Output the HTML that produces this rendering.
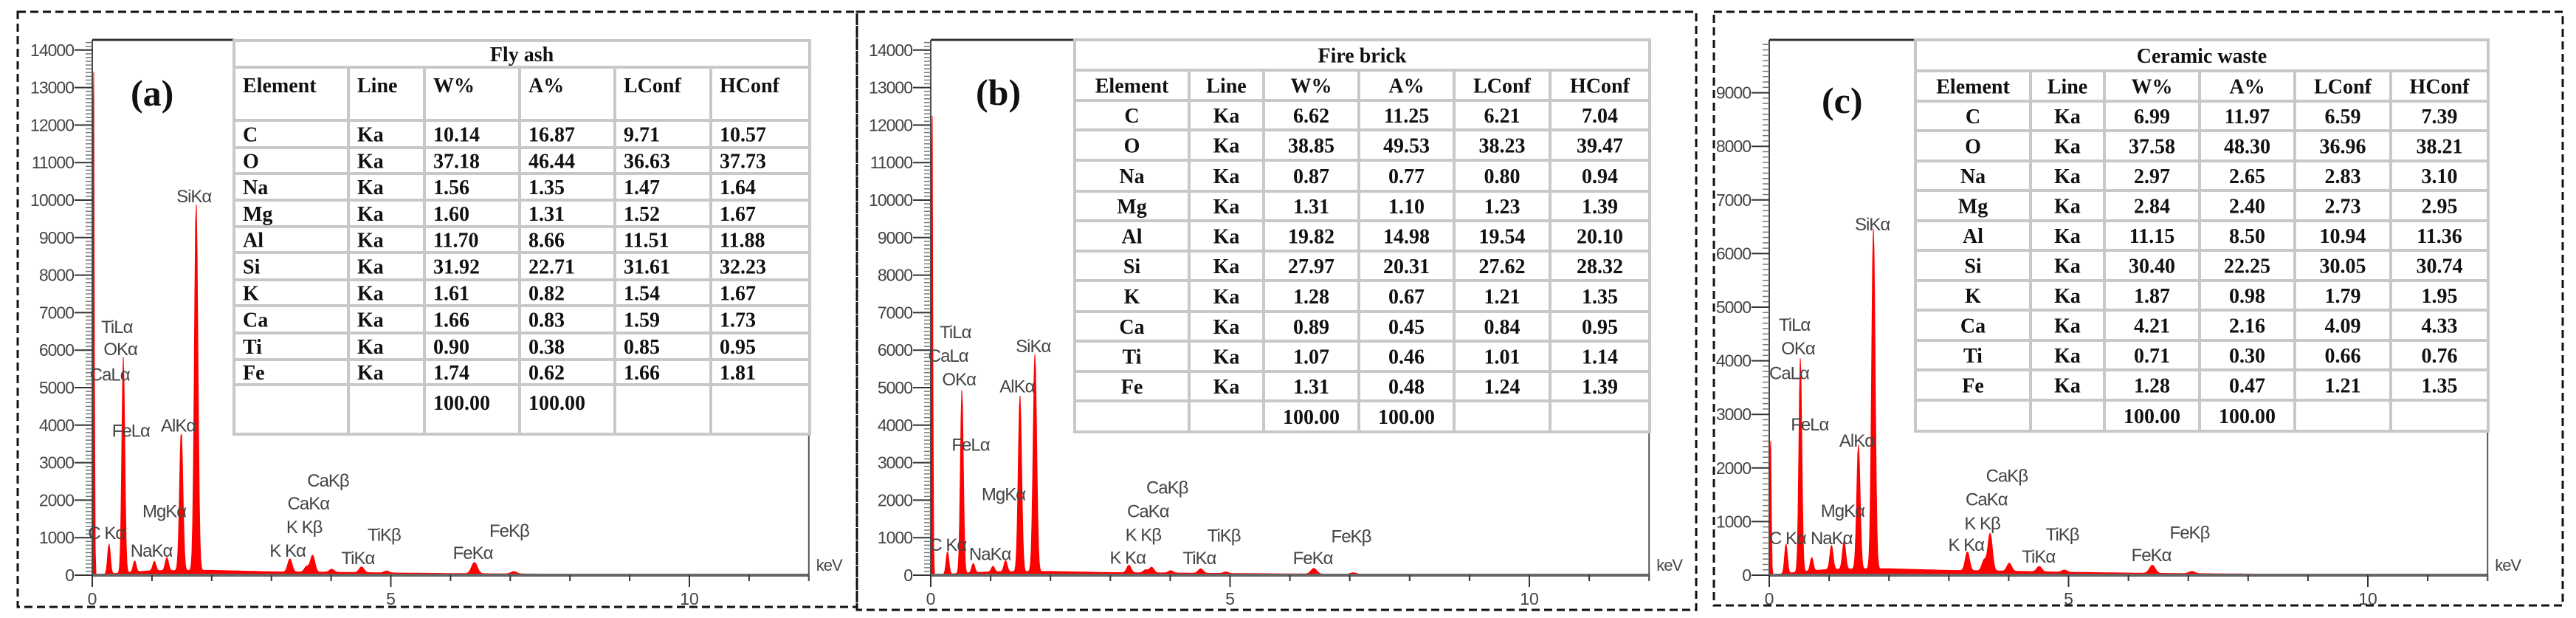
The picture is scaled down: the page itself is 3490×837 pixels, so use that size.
<!DOCTYPE html>
<html><head><meta charset="utf-8"><title>EDS spectra</title>
<style>html,body{margin:0;padding:0;background:#fff;}svg{display:block;}</style></head>
<body>
<svg id="fig" xmlns="http://www.w3.org/2000/svg" width="3490" height="837" viewBox="0 0 3490 837"></svg>
<script>
// ---------- data ----------
const axisTicksA = [0,1000,2000,3000,4000,5000,6000,7000,8000,9000,10000,11000,12000,13000,14000];
const axisTicksC = [0,1000,2000,3000,4000,5000,6000,7000,8000,9000];
const xTickLabels = [0,5,10];
const tableHeader = ["Element","Line","W%","A%","LConf","HConf"];
const elements = ["C","O","Na","Mg","Al","Si","K","Ca","Ti","Fe"];

const peakKeV = [0.02,0.28,0.52,0.71,1.04,1.25,1.49,1.74,3.31,3.59,3.69,4.01,4.51,4.93,6.40,7.06];
const peaksA = [14500,800,5750,300,250,350,3700,9800,350,150,450,80,150,50,300,60];
const peaksB = [13200,600,4900,250,150,300,4700,5800,200,80,150,60,120,40,150,40];
const peaksC = [2700,550,4000,250,450,520,2320,6350,350,200,700,150,100,40,150,40];
const bgKeV = [0,0.5,1,2,3,4,5,6,7,8,9,10,12];
const bgA = [0,60,120,130,90,80,60,45,35,25,15,10,5];
const bgB = [0,50,90,100,70,60,45,35,25,18,12,8,4];
const bgC = [0,60,110,120,90,75,55,40,30,22,14,9,4];

const wA = [["10.14","16.87","9.71","10.57"],["37.18","46.44","36.63","37.73"],["1.56","1.35","1.47","1.64"],["1.60","1.31","1.52","1.67"],["11.70","8.66","11.51","11.88"],["31.92","22.71","31.61","32.23"],["1.61","0.82","1.54","1.67"],["1.66","0.83","1.59","1.73"],["0.90","0.38","0.85","0.95"],["1.74","0.62","1.66","1.81"]];
const wB = [["6.62","11.25","6.21","7.04"],["38.85","49.53","38.23","39.47"],["0.87","0.77","0.80","0.94"],["1.31","1.10","1.23","1.39"],["19.82","14.98","19.54","20.10"],["27.97","20.31","27.62","28.32"],["1.28","0.67","1.21","1.35"],["0.89","0.45","0.84","0.95"],["1.07","0.46","1.01","1.14"],["1.31","0.48","1.24","1.39"]];
const wC = [["6.99","11.97","6.59","7.39"],["37.58","48.30","36.96","38.21"],["2.97","2.65","2.83","3.10"],["2.84","2.40","2.73","2.95"],["11.15","8.50","10.94","11.36"],["30.40","22.25","30.05","30.74"],["1.87","0.98","1.79","1.95"],["4.21","2.16","4.09","4.33"],["0.71","0.30","0.66","0.76"],["1.28","0.47","1.21","1.35"]];

const labelText = ["TiLα","OKα","CaLα","FeLα","AlKα","SiKα","MgKα","C Kα","NaKα","K Kα","K Kβ","CaKα","CaKβ","TiKβ","TiKα","FeKβ","FeKα"];
const labelKeVA = [0.15,0.19,-0.04,0.33,1.15,1.41,0.84,-0.07,0.64,2.97,3.25,3.27,3.6,4.61,4.17,6.65,6.04];
const labelCntA = [6460,5870,5190,3690,3830,9940,1550,960,490,490,1120,1750,2360,920,300,1020,430];
const labelKeVB = [0.15,0.19,-0.04,0.35,1.15,1.42,0.85,-0.02,0.64,2.99,3.25,3.28,3.6,4.62,4.21,6.69,6.05];
const labelCntB = [6320,5060,5690,3320,4870,5940,2000,650,400,310,920,1550,2180,900,300,880,300];
const labelKeVC = [0.16,0.2,0,0.36,1.17,1.43,0.86,0,0.69,2.99,3.26,3.28,3.62,4.62,4.22,6.69,6.05];
const labelCntC = [4560,4120,3660,2700,2400,6430,1090,580,580,455,855,1300,1740,650,235,680,260];

// ---------- helpers ----------
const NS="http://www.w3.org/2000/svg";
const svg=document.getElementById('fig');
function mk(tag,attrs,parent){const e=document.createElementNS(NS,tag);for(const k in attrs)e.setAttribute(k,attrs[k]);(parent||svg).appendChild(e);return e;}
function interp(xs,ys,x){if(x<=xs[0])return ys[0];for(let i=1;i<xs.length;i++){if(x<=xs[i]){const t=(x-xs[i-1])/(xs[i]-xs[i-1]);return ys[i-1]+t*(ys[i]-ys[i-1]);}}return ys[ys.length-1];}

function panel(cfg){
  const g=mk('g',{});
  
  
  const X=k=>cfg.x0+k*cfg.pxPerKeV;
  const Y=c=>cfg.y0-(c/1000)*cfg.pxPer1000;
  const b=mk('rect',{x:cfg.bx,y:cfg.by,width:cfg.bw,height:cfg.bh,fill:'none',stroke:'#111','stroke-width':3,'stroke-dasharray':'11,6'},g);
  
  
  let d='M'+X(0)+','+Y(0);
  const xEnd=X(12);
  for(let px=cfg.x0;px<=xEnd;px+=1){
    const k=(px-cfg.x0)/cfg.pxPerKeV;
    let c=interp(bgKeV,cfg.bg,k);
    for(let i=0;i<peakKeV.length;i++){
      const s=(i===0?0.012:0.022+0.004*peakKeV[i]);
      const dx=(k-peakKeV[i])/s;
      c+=cfg.peaks[i]*Math.exp(-0.5*dx*dx);
    }
    c=Math.min(c,cfg.maxC);
    d+=' L'+px+','+Y(c).toFixed(1);
  }
  d+=' L'+xEnd+','+Y(0)+' Z';
  const sp=mk('path',{d:d,fill:'#ff0000',stroke:'#ff0000','stroke-width':1},g);
  
  
  const yTop=cfg.topY;
  const ya=mk('line',{x1:cfg.x0,y1:yTop,x2:cfg.x0,y2:Y(0),stroke:'#444','stroke-width':2},g);
  
  
  for(let c=0;c<=cfg.maxC;c+=100){
    const y=Y(c); if(y<yTop)break;
    mk('line',{x1:cfg.x0-9,y1:y,x2:cfg.x0,y2:y,stroke:'#777','stroke-width':1.5},g);
  }
  cfg.ticks.forEach(t=>{
    mk('line',{x1:cfg.x0-24,y1:Y(t),x2:cfg.x0,y2:Y(t),stroke:'#333','stroke-width':2},g);
    const tx=mk('text',{x:cfg.x0-25,y:Y(t)+8,'text-anchor':'end','font-family':'Liberation Sans, sans-serif','font-size':23,fill:'#444','letter-spacing':'-1'},g);
    tx.textContent=t;
    
    
  });
  const xa=mk('line',{x1:cfg.x0,y1:Y(0),x2:xEnd,y2:Y(0),stroke:'#666','stroke-width':4},g);
  
  
  for(let k=0;k<=12;k++){
    const big=(k%5===0);
    mk('line',{x1:X(k),y1:Y(0),x2:X(k),y2:Y(0)+(big?16:8),stroke:'#333','stroke-width':2},g);
  }
  xTickLabels.forEach(k=>{
    const tx=mk('text',{x:X(k),y:Y(0)+40,'text-anchor':'middle','font-family':'Liberation Sans, sans-serif','font-size':23,fill:'#444'},g);
    tx.textContent=k;
    
    
  });
  const kv=mk('text',{x:xEnd+10,y:Y(0)-6,'font-family':'Liberation Sans, sans-serif','font-size':22,fill:'#444','letter-spacing':'-1'},g);
  kv.textContent='keV';
  
  
  mk('line',{x1:cfg.x0,y1:yTop,x2:cfg.cols[0],y2:yTop,stroke:'#333','stroke-width':3},g);
  mk('line',{x1:xEnd,y1:cfg.rows[cfg.rows.length-1],x2:xEnd,y2:Y(0)+8,stroke:'#555','stroke-width':2},g);
  labelText.forEach((t,i)=>{
    const tx=mk('text',{x:X(cfg.lk[i]),y:Y(cfg.lc[i]),'font-family':'Liberation Sans, sans-serif','font-size':24,fill:'#444','letter-spacing':'-1'},g);
    tx.textContent=t;
    
    
  });
  const pl=mk('text',{x:cfg.letterX,y:cfg.letterY,'font-family':'Liberation Serif, serif','font-size':50,'font-weight':'bold',fill:'#111'},g);
  pl.textContent=cfg.letter;
  
  
  const tg=mk('g',{},g);
  
  
  const R=cfg.rows,C=cfg.cols;
  mk('rect',{x:C[0],y:R[0],width:C[C.length-1]-C[0],height:R[R.length-1]-R[0],fill:'#fff',stroke:'#c8c8c8','stroke-width':4},tg);
  for(let i=1;i<R.length-1;i++)mk('line',{x1:C[0],y1:R[i],x2:C[C.length-1],y2:R[i],stroke:'#c8c8c8','stroke-width':4},tg);
  for(let j=1;j<C.length-1;j++)mk('line',{x1:C[j],y1:R[1],x2:C[j],y2:R[R.length-1],stroke:'#c8c8c8','stroke-width':4},tg);
  const font={'font-family':'Liberation Serif, serif','font-size':28,'font-weight':'bold',fill:'#111'};
  function cell(txt,ci,ri,top){
    const x=cfg.center?(C[ci]+C[ci+1])/2:C[ci]+12;
    const y=top?R[ri]+34:(R[ri]+R[ri+1])/2+10;
    const t=mk('text',Object.assign({x:x,y:y,'text-anchor':cfg.center?'middle':'start'},font),tg);
    t.textContent=txt;
    
    
  }
  const tt=mk('text',Object.assign({x:(C[0]+C[C.length-1])/2,y:(R[0]+R[1])/2+10,'text-anchor':'middle'},font),tg);
  tt.textContent=cfg.title;
  
  
  tableHeader.forEach((h,j)=>cell(h,j,1,!cfg.center));
  elements.forEach((el,i)=>{
    cell(el,0,i+2);cell('Ka',1,i+2);
    cfg.w[i].forEach((v,j)=>cell(v,j+2,i+2));
  });
  cell('100.00',2,12,!cfg.center);cell('100.00',3,12,!cfg.center);
}

panel({name:'panel-a-fly-ash',letter:'(a)',letterX:177,letterY:143,title:'Fly ash',center:false,
  bx:24,by:16,bw:1137,bh:806,x0:125,y0:779,pxPerKeV:80.9,pxPer1000:50.8,maxC:14300,topY:54,
  ticks:axisTicksA,peaks:peaksA,bg:bgA,lk:labelKeVA,lc:labelCntA,w:wA,
  cols:[317,472,575,704,833,963,1097],rows:[55,91,163,200,235,271,307,342,379,414,451,487,521,588]});
panel({name:'panel-b-fire-brick',letter:'(b)',letterX:1322,letterY:142,title:'Fire brick',center:true,
  bx:1161,by:16,bw:1137,bh:810,x0:1261,y0:779,pxPerKeV:81.1,pxPer1000:50.8,maxC:14300,topY:54,
  ticks:axisTicksA,peaks:peaksB,bg:bgB,lk:labelKeVB,lc:labelCntB,w:wB,
  cols:[1456,1611,1712,1841,1970,2100,2235],rows:[54,95,136,176,217,259,299,340,380,422,462,503,543,585]});
panel({name:'panel-c-ceramic-waste',letter:'(c)',letterX:2468,letterY:153,title:'Ceramic waste',center:true,
  bx:2322,by:16,bw:1150,bh:804,x0:2397,y0:779,pxPerKeV:81.1,pxPer1000:72.6,maxC:10000,topY:54,
  ticks:axisTicksC,peaks:peaksC,bg:bgC,lk:labelKeVC,lc:labelCntC,w:wC,
  cols:[2595,2751,2851,2980,3109,3239,3371],rows:[54,96,137,177,218,258,299,339,380,420,461,501,542,584]});
</script>
</body></html>
